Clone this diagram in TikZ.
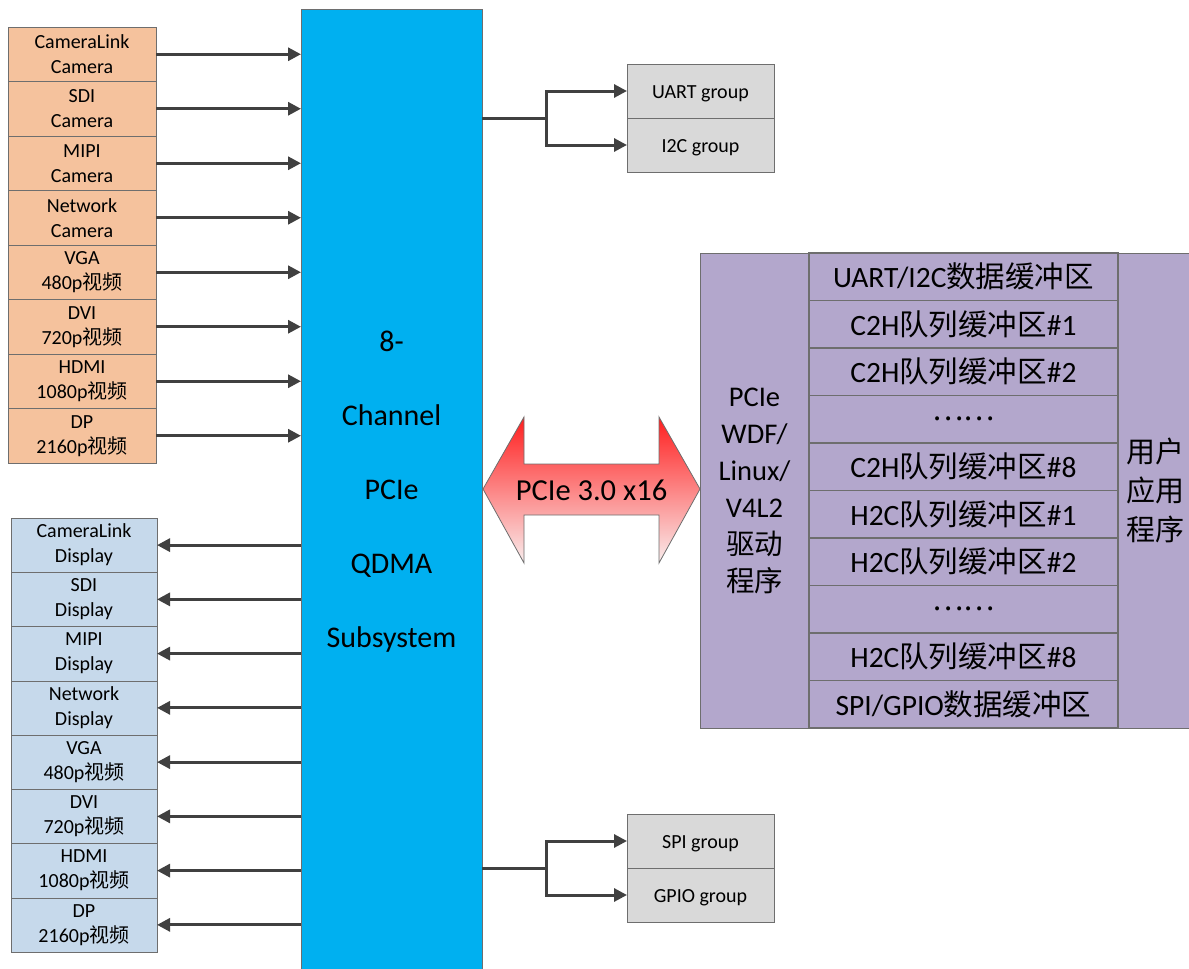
\documentclass[tikz,border=0pt]{standalone}
\usepackage{fontspec}
\setmainfont{Carlito}
\newfontfamily\zhfont{Noto Sans CJK SC}
\newcommand{\zhtxt}[1]{{\zhfont #1}}
\usepackage{tikz}
\usetikzlibrary{arrows.meta,positioning}
\definecolor{camorange}{HTML}{F5C29D}
\definecolor{dspblue}{HTML}{C6D9EB}
\definecolor{grpgray}{HTML}{D9D9D9}
\definecolor{qdmablue}{HTML}{00B0F0}
\definecolor{drvpurple}{HTML}{B3A7CC}
\definecolor{boxborder}{HTML}{6E6E6E}
\definecolor{arrowgray}{HTML}{404040}
\definecolor{busred}{HTML}{FF1E1E}
\definecolor{busmid}{HTML}{F47777}
\definecolor{buspale}{HTML}{F9EDED}
\tikzset{
  srcbox/.style={draw=boxborder,fill=camorange,minimum width=148pt,minimum height=54.5pt,
    inner sep=0pt,outer sep=0pt,align=center,font=\fontsize{20}{25}\selectfont},
  dspbox/.style={srcbox,fill=dspblue,minimum width=146pt,minimum height=54.25pt},
  grpbox/.style={draw=boxborder,fill=grpgray,minimum width=147pt,minimum height=54pt,
    inner sep=0pt,outer sep=0pt,text height=19pt,text depth=4pt,font=\fontsize{20}{24}\selectfont},
  bufrow/.style={draw=boxborder,line width=1.2pt,fill=drvpurple,minimum width=309pt,
    minimum height=47.5pt,inner sep=0pt,outer sep=0pt,font=\fontsize{29.5}{32}\selectfont},
  flowarrow/.style={-{Triangle[length=13pt,width=13pt]},line width=3pt,draw=arrowgray},
  flowline/.style={line width=3pt,draw=arrowgray}
}
\begin{document}
\begin{tikzpicture}[x=1pt,y=-1pt]
\useasboundingbox (0,0) rectangle (1189,969);
% QDMA core
\node[draw=boxborder,fill=qdmablue,minimum width=181pt,minimum height=966pt,inner sep=0pt,
  outer sep=0pt,align=center,font=\fontsize{30}{74}\selectfont] (qdma) at (391.5,492)
  {8-\\Channel\\PCIe\\QDMA\\Subsystem};
% camera inputs
\node[srcbox] (cam1) at (82,54.25) {CameraLink\\Camera};
\node[srcbox,below=0pt of cam1] (cam2) {SDI\\Camera};
\node[srcbox,below=0pt of cam2] (cam3) {MIPI\\Camera};
\node[srcbox,below=0pt of cam3] (cam4) {Network\\Camera};
\node[srcbox,below=0pt of cam4] (cam5) {VGA\\480p\zhtxt{视频}};
\node[srcbox,below=0pt of cam5] (cam6) {DVI\\720p\zhtxt{视频}};
\node[srcbox,below=0pt of cam6] (cam7) {HDMI\\1080p\zhtxt{视频}};
\node[srcbox,below=0pt of cam7] (cam8) {DP\\2160p\zhtxt{视频}};
% display outputs
\node[dspbox] (dsp1) at (84,545.1) {CameraLink\\Display};
\node[dspbox,below=0pt of dsp1] (dsp2) {SDI\\Display};
\node[dspbox,below=0pt of dsp2] (dsp3) {MIPI\\Display};
\node[dspbox,below=0pt of dsp3] (dsp4) {Network\\Display};
\node[dspbox,below=0pt of dsp4] (dsp5) {VGA\\480p\zhtxt{视频}};
\node[dspbox,below=0pt of dsp5] (dsp6) {DVI\\720p\zhtxt{视频}};
\node[dspbox,below=0pt of dsp6] (dsp7) {HDMI\\1080p\zhtxt{视频}};
\node[dspbox,below=0pt of dsp7] (dsp8) {DP\\2160p\zhtxt{视频}};
% peripheral groups
\node[grpbox] (uart) at (700.5,91) {UART group};
\node[grpbox,below=0pt of uart] (i2c) {I2C group};
\node[grpbox] (spi) at (700.5,841) {SPI group};
\node[grpbox,below=0pt of spi] (gpio) {GPIO group};
\coordinate (jtop) at (546,118);
\coordinate (jbot) at (546,868);
% driver side
\node[draw=boxborder,fill=drvpurple,minimum width=109pt,minimum height=475pt,inner sep=0pt,
  outer sep=0pt,align=center,font=\fontsize{28.5}{37}\selectfont] (drv) at (754.5,490.5)
  {PCIe\\WDF/\\Linux/\\V4L2\\\zhtxt{驱动}\\\zhtxt{程序}};
\node[draw=boxborder,fill=drvpurple,minimum width=74pt,minimum height=475pt,inner sep=0pt,
  outer sep=0pt,align=center,font=\fontsize{29}{39}\selectfont] (app) at (1155,490.5)
  {\zhtxt{用户}\\\zhtxt{应用}\\\zhtxt{程序}};
\node[bufrow] (buf1) at (963.5,276.75) {UART/I2C\zhtxt{数据缓冲区}};
\node[bufrow,below=0pt of buf1] (buf2) {C2H\zhtxt{队列缓冲区}\#1};
\node[bufrow,below=0pt of buf2] (buf3) {C2H\zhtxt{队列缓冲区}\#2};
\node[bufrow,below=0pt of buf3] (buf4) {\zhtxt{……}};
\node[bufrow,below=0pt of buf4] (buf5) {C2H\zhtxt{队列缓冲区}\#8};
\node[bufrow,below=0pt of buf5] (buf6) {H2C\zhtxt{队列缓冲区}\#1};
\node[bufrow,below=0pt of buf6] (buf7) {H2C\zhtxt{队列缓冲区}\#2};
\node[bufrow,below=0pt of buf7] (buf8) {\zhtxt{……}};
\node[bufrow,below=0pt of buf8] (buf9) {H2C\zhtxt{队列缓冲区}\#8};
\node[bufrow,below=0pt of buf9] (buf10) {SPI/GPIO\zhtxt{数据缓冲区}};
% PCIe link
\draw[draw=boxborder,line width=0.8pt,top color=busred,middle color=busmid,bottom color=buspale]
  (483,489) -- (524,417) -- (524,464) -- (659,464) -- (659,417) -- (700,489)
  -- (659,563) -- (659,515) -- (524,515) -- (524,563) -- cycle;
\node[font=\fontsize{30.5}{34}\selectfont] (bus) at (591.5,490) {PCIe 3.0 x16};
% connectors
\draw[flowarrow] (cam1.east) -- (cam1.east -| qdma.west);
\draw[flowarrow] (cam2.east) -- (cam2.east -| qdma.west);
\draw[flowarrow] (cam3.east) -- (cam3.east -| qdma.west);
\draw[flowarrow] (cam4.east) -- (cam4.east -| qdma.west);
\draw[flowarrow] (cam5.east) -- (cam5.east -| qdma.west);
\draw[flowarrow] (cam6.east) -- (cam6.east -| qdma.west);
\draw[flowarrow] (cam7.east) -- (cam7.east -| qdma.west);
\draw[flowarrow] (cam8.east) -- (cam8.east -| qdma.west);
\draw[flowarrow] (dsp1.east -| qdma.west) -- (dsp1.east);
\draw[flowarrow] (dsp2.east -| qdma.west) -- (dsp2.east);
\draw[flowarrow] (dsp3.east -| qdma.west) -- (dsp3.east);
\draw[flowarrow] (dsp4.east -| qdma.west) -- (dsp4.east);
\draw[flowarrow] (dsp5.east -| qdma.west) -- (dsp5.east);
\draw[flowarrow] (dsp6.east -| qdma.west) -- (dsp6.east);
\draw[flowarrow] (dsp7.east -| qdma.west) -- (dsp7.east);
\draw[flowarrow] (dsp8.east -| qdma.west) -- (dsp8.east);
\draw[flowline] (jtop -| qdma.east) -- (jtop);
\draw[flowarrow] (jtop) |- (uart.west);
\draw[flowarrow] (jtop) |- (i2c.west);
\draw[flowline] (jbot -| qdma.east) -- (jbot);
\draw[flowarrow] (jbot) |- (spi.west);
\draw[flowarrow] (jbot) |- (gpio.west);
\end{tikzpicture}
\end{document}
